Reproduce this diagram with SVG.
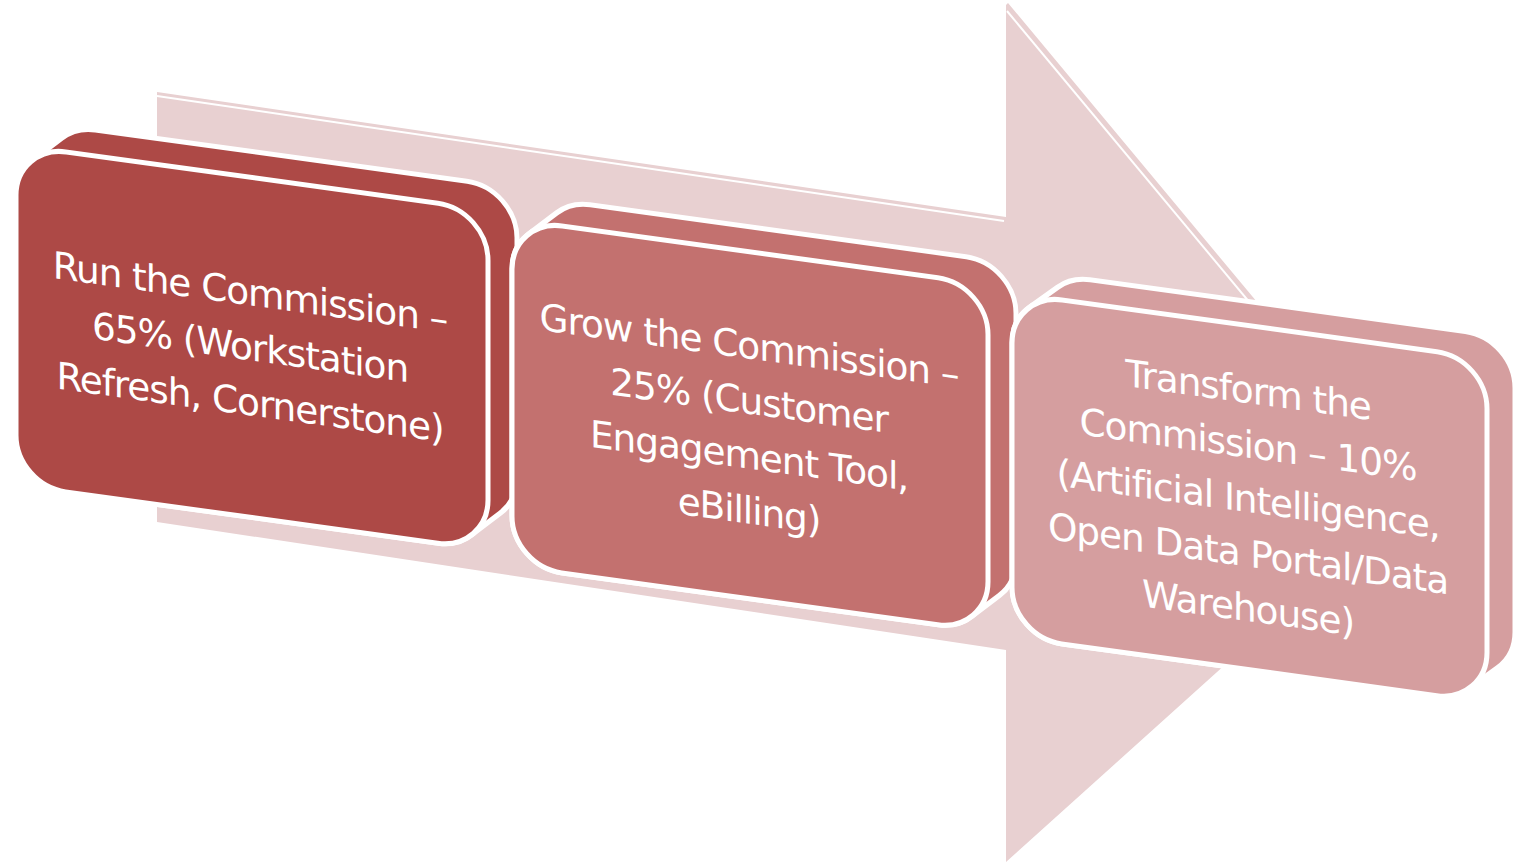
<svg xmlns="http://www.w3.org/2000/svg" width="1516" height="863" viewBox="0 0 1516 863">
<style>
.face{stroke:#FFFFFF;stroke-width:5;stroke-linejoin:round}
.c1{fill:#AD4946}
.c2{fill:#C3716F}
.c3{fill:#D59E9F}
.arrow{fill:#E8D0D1}
.hl{fill:none;stroke:#FFFFFF;stroke-width:2}
.lbl{font-family:"DejaVu Sans","Liberation Sans",sans-serif;font-size:37.5px;letter-spacing:-1.1px;fill:#FFFFFF;text-anchor:middle}
</style>
<rect width="1516" height="863" fill="#FFFFFF"/>
<g id="connectors">
<polygon class="arrow" points="157,92 1006,217 1006,5 1008,3 1416,493 1006,862 1006,650 157,522"/>
<polyline class="hl" points="157,96 1004,221"/>
<polyline class="hl" points="1007,11 1300,363"/>
</g>
<g id="node1" transform="translate(16,145) skewY(7.855)">
<path class="face c1" d="M16.6,12.8 L45.6,-13.2 A50,50 0 0 1 79,-26 L451,-26 A50,50 0 0 1 501,24 L501,264 A50,50 0 0 1 484.4,301.2 L455.4,327.2 A50,50 0 0 1 422,340 L50,340 A50,50 0 0 1 0,290 L0,50 A50,50 0 0 1 16.6,12.8 Z"/>
<rect class="face c1" x="0" y="0" width="472" height="340" rx="50" ry="50"/>
<text class="lbl"><tspan x="234" y="128">Run the Commission –</tspan><tspan x="234" y="183">65% (Workstation</tspan><tspan x="234" y="238">Refresh, Cornerstone)</tspan></text>
</g>
<g id="node2" transform="translate(512,219) skewY(7.855)">
<path class="face c2" d="M16.7,12.7 L44.7,-12.3 A50,50 0 0 1 78,-25 L454,-25 A50,50 0 0 1 504,25 L504,272 A50,50 0 0 1 487.3,309.3 L459.3,334.3 A50,50 0 0 1 426,347 L50,347 A50,50 0 0 1 0,297 L0,50 A50,50 0 0 1 16.7,12.7 Z"/>
<rect class="face c2" x="0" y="0" width="476" height="347" rx="50" ry="50"/>
<text class="lbl"><tspan x="237" y="107">Grow the Commission –</tspan><tspan x="237" y="162">25% (Customer</tspan><tspan x="237" y="217">Engagement Tool,</tspan><tspan x="237" y="272">eBilling)</tspan></text>
</g>
<g id="node3" transform="translate(1012,293) skewY(7.855)">
<path class="face c3" d="M17.5,12 L45.5,-12 A50,50 0 0 1 78,-24 L453,-24 A50,50 0 0 1 503,26 L503,270 A50,50 0 0 1 485.5,308 L457.5,332 A50,50 0 0 1 425,344 L50,344 A50,50 0 0 1 0,294 L0,50 A50,50 0 0 1 17.5,12 Z"/>
<rect class="face c3" x="0" y="0" width="475" height="344" rx="50" ry="50"/>
<text class="lbl"><tspan x="236" y="77.5">Transform the</tspan><tspan x="236" y="132">Commission – 10%</tspan><tspan x="236" y="186.5">(Artificial Intelligence,</tspan><tspan x="236" y="241">Open Data Portal/Data</tspan><tspan x="236" y="295.5">Warehouse)</tspan></text>
</g>
</svg>
